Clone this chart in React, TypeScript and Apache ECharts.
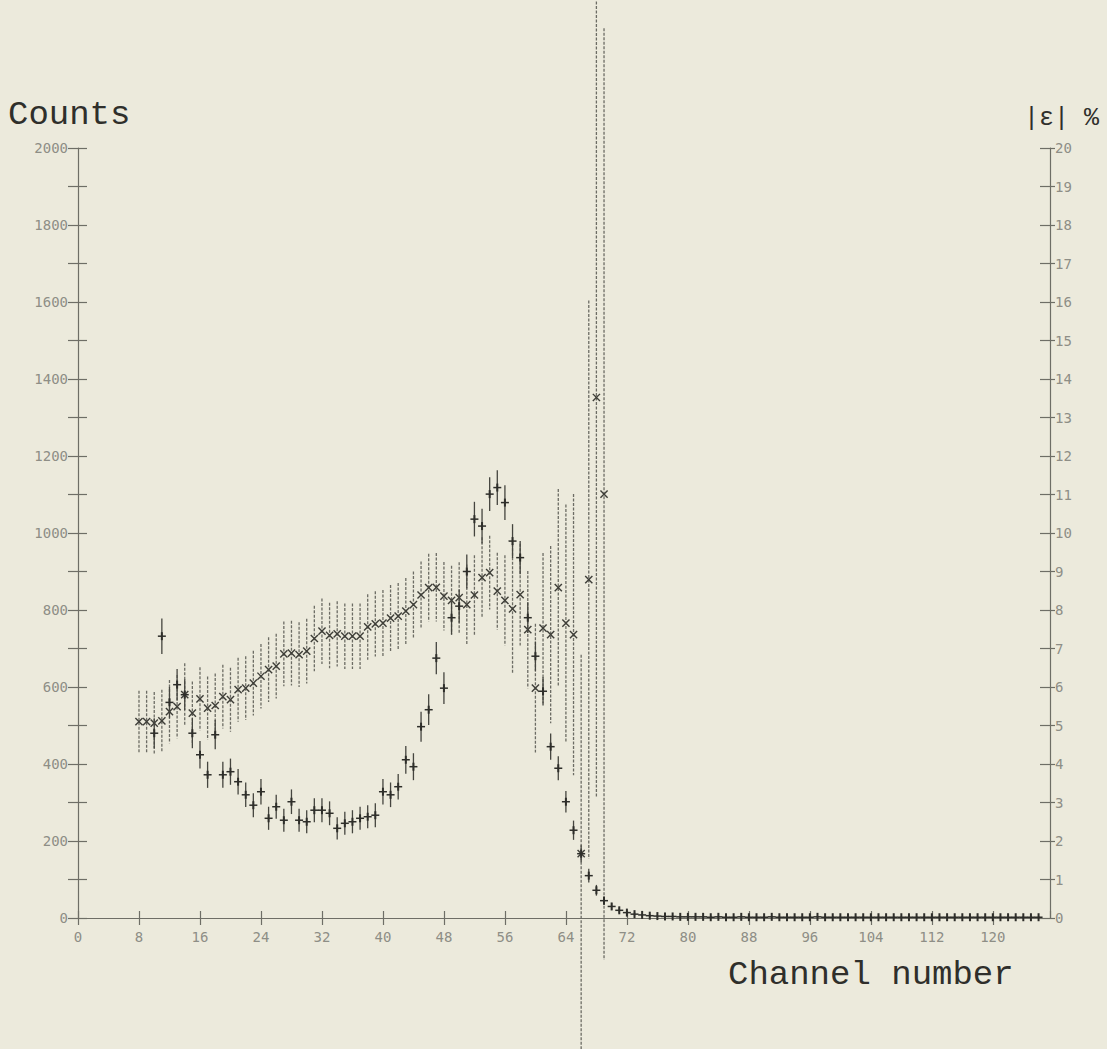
import React, { useEffect, useRef } from "react";
import * as echarts from "echarts";

// ---- data ----
const xTickLabels = [0, 8, 16, 24, 32, 40, 48, 56, 64, 72, 80, 88, 96, 104, 112, 120];

const crossChannels = [
  8, 9, 10, 11, 12, 13, 14, 15, 16, 17, 18, 19, 20, 21, 22, 23, 24, 25, 26, 27, 28, 29, 30,
  31, 32, 33, 34, 35, 36, 37, 38, 39, 40, 41, 42, 43, 44, 45, 46, 47, 48, 49, 50, 51, 52, 53,
  54, 55, 56, 57, 58, 59, 60, 61, 62, 63, 64, 65, 66, 67, 68, 69,
];
const crossValues = [
  510, 510, 506, 512, 536, 549, 580, 532, 569, 545, 552, 575, 567, 593, 597, 610, 628, 645, 654, 686, 688, 684, 693,
  726, 745, 734, 738, 732, 732, 732, 756, 764, 766, 779, 784, 797, 814, 839, 858, 859, 836, 825, 832, 814, 839, 884,
  897, 849, 825, 803, 840, 749, 597, 753, 736, 858, 766, 736, 167, 879, 1352, 1101,
];
const crossErrors = [
  80, 80, 81, 81, 82, 82, 82, 82, 82, 82, 83, 83, 83, 83, 83, 84, 84, 84, 84, 84, 84, 84, 84,
  85, 85, 85, 85, 85, 85, 85, 85, 85, 86, 86, 86, 86, 86, 87, 88, 89, 89, 90, 92, 104, 103, 105,
  96, 100, 117, 169, 132, 152, 167, 195, 230, 256, 308, 365, 517, 725, 1040, 1210,
];

const plusChannels = [
  10, 11, 12, 13, 14, 15, 16, 17, 18, 19, 20, 21, 22, 23, 24, 25, 26, 27, 28, 29, 30,
  31, 32, 33, 34, 35, 36, 37, 38, 39, 40, 41, 42, 43, 44, 45, 46, 47, 48, 49, 50, 51, 52, 53,
  54, 55, 56, 57, 58, 59, 60, 61, 62, 63, 64, 65, 66, 67, 68, 69, 70, 71, 72, 73, 74, 75, 76,
  77, 78, 79, 80, 81, 82, 83, 84, 85, 86, 87, 88, 89, 90, 91, 92, 93, 94, 95, 96, 97, 98, 99,
  100, 101, 102, 103, 104, 105, 106, 107, 108, 109, 110, 111, 112, 113, 114, 115, 116, 117,
  118, 119, 120, 121, 122, 123, 124, 125, 126,
];
const plusValues = [
  480, 732, 560, 606, 580, 480, 424, 372, 476, 372, 380, 354, 320, 293, 328, 259, 289, 254, 302, 254, 250,
  280, 280, 272, 233, 246, 250, 259, 263, 267, 328, 320, 341, 411, 393, 497, 541, 675, 597, 780, 810, 900, 1036, 1018,
  1101, 1118, 1079, 979, 936, 780, 680, 589, 445, 389, 302, 228, 167, 110, 72, 45, 30, 20, 14, 10, 8, 6, 5,
  4, 4, 3, 3, 3, 3, 2, 3, 2, 2, 3, 2, 2, 2, 3, 2, 2, 2, 2, 2, 3, 2, 2,
  2, 2, 2, 2, 2, 2, 2, 2, 2, 2, 2, 2, 2, 2, 2, 2, 2, 2,
  2, 2, 2, 2, 2, 2, 2, 2, 2,
];
const plusErrors = [
  39, 46, 40, 41, 40, 39, 36, 34, 38, 34, 34, 33, 32, 31, 33, 30, 31, 30, 32, 30, 30,
  31, 31, 31, 29, 30, 30, 30, 30, 31, 33, 32, 33, 36, 35, 39, 40, 42, 41, 43, 43, 44, 45, 45,
  44, 45, 45, 44, 43, 40, 38, 37, 34, 31, 28, 25, 22, 18, 14, 11, 9, 7, 6, 5, 4, 4, 3,
  3, 3, 3, 3, 3, 3, 3, 3, 3, 3, 3, 3, 3, 3, 3, 3, 3, 3, 3, 3, 3, 3, 3,
  3, 3, 3, 3, 3, 3, 3, 3, 3, 3, 3, 3, 3, 3, 3, 3, 3, 3,
  3, 3, 3, 3, 3, 3, 3, 3, 3,
];

const leftMax = 2000;
const rightMax = 20;
const xMax = 127.5;

const PAPER = "#ECEADC";
const AXIS = "#6e6e66";
const LABEL = "#8e8e86";
const TYPE_FONT = "'Courier New', 'Nimbus Mono PS', 'FreeMono', 'Liberation Mono', monospace";

function renderErr(kind: "cross" | "plus") {
  return (params: any, api: any) => {
    const x = api.value(0);
    const v = api.value(1);
    const e = api.value(2);
    const c = api.coord([x, v]);
    const t = api.coord([x, v + e]);
    const b = api.coord([x, v - e]);
    const children: any[] = [];
    if (kind === "cross") {
      children.push({
        type: "line",
        shape: { x1: c[0], y1: t[1], x2: c[0], y2: b[1] },
        style: { stroke: "#6c6c64", lineWidth: 1.3, lineDash: [3, 1.5] },
      });
      const s = 3.6;
      children.push({
        type: "line",
        shape: { x1: c[0] - s, y1: c[1] - s, x2: c[0] + s, y2: c[1] + s },
        style: { stroke: "#3e3e38", lineWidth: 1.4 },
      });
      children.push({
        type: "line",
        shape: { x1: c[0] - s, y1: c[1] + s, x2: c[0] + s, y2: c[1] - s },
        style: { stroke: "#3e3e38", lineWidth: 1.4 },
      });
    } else {
      children.push({
        type: "line",
        shape: { x1: c[0], y1: t[1], x2: c[0], y2: b[1] },
        style: { stroke: "#45453f", lineWidth: 1.3 },
      });
      const s = 4;
      children.push({
        type: "line",
        shape: { x1: c[0] - s, y1: c[1], x2: c[0] + s, y2: c[1] },
        style: { stroke: "#2e2e2a", lineWidth: 1.5 },
      });
      children.push({
        type: "line",
        shape: { x1: c[0], y1: c[1] - 4, x2: c[0], y2: c[1] + 4 },
        style: { stroke: "#2e2e2a", lineWidth: 2 },
      });
    }
    return { type: "group", children };
  };
}

export default function App() {
  const ref = useRef<HTMLDivElement>(null);
  useEffect(() => {
    document.body.style.margin = "0";
    document.body.style.background = PAPER;
    if (!ref.current) return;
    const chart = echarts.init(ref.current, undefined, { renderer: "svg" });

    const crossData = crossChannels.map((c, i) => [c, crossValues[i], crossErrors[i]]);
    const plusData = plusChannels.map((c, i) => [c, plusValues[i], plusErrors[i]]);

    const tickStyle = { color: AXIS, width: 1.2 };
    const labelFont = { color: LABEL, fontFamily: "DejaVu Sans Mono", fontSize: 14 };

    chart.setOption({
      animation: false,
      backgroundColor: PAPER,
      grid: { left: 78, right: 57, top: 148, bottom: 131, containLabel: false },
      xAxis: [
        {
          type: "value",
          min: 0,
          max: xMax,
          interval: 8,
          position: "bottom",
          axisLine: { show: true, onZero: false, lineStyle: tickStyle },
          axisTick: { show: true, inside: false, length: 7, lineStyle: tickStyle },
          axisLabel: {
            ...labelFont,
            margin: 12,
            showMaxLabel: false,
            formatter: (v: number) => (xTickLabels.indexOf(v) >= 0 ? String(v) : ""),
          },
          splitLine: { show: false },
        },
        {
          type: "value",
          min: 0,
          max: xMax,
          interval: 8,
          position: "bottom",
          axisLine: { show: false, onZero: false },
          axisTick: { show: true, inside: true, length: 7, lineStyle: tickStyle },
          axisLabel: { show: false },
          splitLine: { show: false },
        },
      ],
      yAxis: [
        {
          type: "value",
          min: 0,
          max: leftMax,
          interval: 100,
          position: "left",
          axisLine: { show: true, onZero: false, lineStyle: tickStyle },
          axisTick: { show: true, inside: false, length: 10, lineStyle: tickStyle },
          axisLabel: {
            ...labelFont,
            margin: 10,
            formatter: (v: number) => (v % 200 === 0 ? String(v) : ""),
          },
          splitLine: { show: false },
        },
        {
          type: "value",
          min: 0,
          max: leftMax,
          interval: 100,
          position: "left",
          axisLine: { show: false, onZero: false },
          axisTick: { show: true, inside: true, length: 9, lineStyle: tickStyle },
          axisLabel: { show: false },
          splitLine: { show: false },
        },
        {
          type: "value",
          min: 0,
          max: rightMax,
          interval: 1,
          position: "right",
          axisLine: { show: true, onZero: false, lineStyle: tickStyle },
          axisTick: { show: true, inside: false, length: 5, lineStyle: tickStyle },
          axisLabel: { ...labelFont, margin: 5 },
          splitLine: { show: false },
        },
        {
          type: "value",
          min: 0,
          max: rightMax,
          interval: 1,
          position: "right",
          axisLine: { show: false, onZero: false },
          axisTick: { show: true, inside: true, length: 10, lineStyle: tickStyle },
          axisLabel: { show: false },
          splitLine: { show: false },
        },
      ],
      graphic: [
        {
          type: "text",
          left: 8,
          top: 98,
          style: { text: "Counts", fill: "#2f2f2b", fontFamily: TYPE_FONT, fontSize: 34 },
        },
        {
          type: "text",
          right: 8,
          top: 106,
          style: { text: "|ε| %", fill: "#2f2f2b", fontFamily: TYPE_FONT, fontSize: 25 },
        },
        {
          type: "text",
          left: 728,
          top: 958,
          style: { text: "Channel number", fill: "#2f2f2b", fontFamily: TYPE_FONT, fontSize: 34 },
        },
      ],
      series: [
        {
          type: "custom",
          name: "corrected",
          xAxisIndex: 0,
          yAxisIndex: 0,
          clip: false,
          renderItem: renderErr("cross"),
          encode: { x: 0, y: 1 },
          data: crossData,
        },
        {
          type: "custom",
          name: "measured",
          xAxisIndex: 0,
          yAxisIndex: 0,
          clip: false,
          renderItem: renderErr("plus"),
          encode: { x: 0, y: 1 },
          data: plusData,
        },
      ],
    });
    return () => chart.dispose();
  }, []);
  return <div ref={ref} style={{ width: 1107, height: 1049 }} />;
}
